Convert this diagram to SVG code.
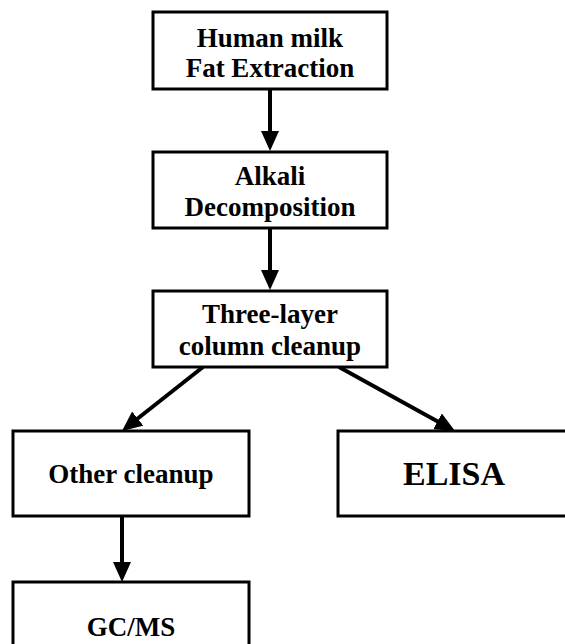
<svg xmlns="http://www.w3.org/2000/svg" width="565" height="644" viewBox="0 0 565 644">
<style>
.box{fill:#fff;stroke:#000;stroke-width:3}
.t{font-family:"Liberation Serif","Times New Roman",serif;font-weight:bold;font-size:27px;fill:#000;text-anchor:middle}
.big{font-size:34px}
.c{stroke:#000;stroke-width:4;fill:none}
</style>
<defs>
<marker id="ah" viewBox="0 0 20 18" refX="8" refY="9" markerWidth="20" markerHeight="18" markerUnits="userSpaceOnUse" orient="auto">
<path d="M0,0 L20,9 L0,18 Z" fill="#000"/>
</marker>
</defs>
<rect width="565" height="644" fill="#fff"/>
<g id="connectors">
<line class="c" x1="270" y1="89" x2="270" y2="139" marker-end="url(#ah)"/>
<line class="c" x1="270" y1="228" x2="270" y2="278" marker-end="url(#ah)"/>
<line class="c" x1="203" y1="367" x2="131.4" y2="423.5" marker-end="url(#ah)"/>
<line class="c" x1="339" y1="367" x2="444.5" y2="425.2" marker-end="url(#ah)"/>
<line class="c" x1="122" y1="516" x2="122" y2="570" marker-end="url(#ah)"/>
</g>
<g id="n1">
<rect class="box" x="153" y="12" width="234" height="77"/>
<text class="t" x="270" y="47">Human milk</text>
<text class="t" x="270" y="77">Fat Extraction</text>
</g>
<g id="n2">
<rect class="box" x="153" y="152" width="234" height="76"/>
<text class="t" x="270" y="185">Alkali</text>
<text class="t" x="270" y="216">Decomposition</text>
</g>
<g id="n3">
<rect class="box" x="153" y="291" width="234" height="76"/>
<text class="t" x="270" y="323">Three-layer</text>
<text class="t" x="270" y="355">column cleanup</text>
</g>
<g id="n4">
<rect class="box" x="13" y="431" width="236" height="85"/>
<text class="t" x="131" y="483">Other cleanup</text>
</g>
<g id="n5">
<rect class="box" x="338" y="431" width="240" height="85"/>
<text class="t big" x="454" y="485">ELISA</text>
</g>
<g id="n6">
<rect class="box" x="13" y="582" width="236" height="80"/>
<text class="t" x="131" y="636">GC/MS</text>
</g>
</svg>
